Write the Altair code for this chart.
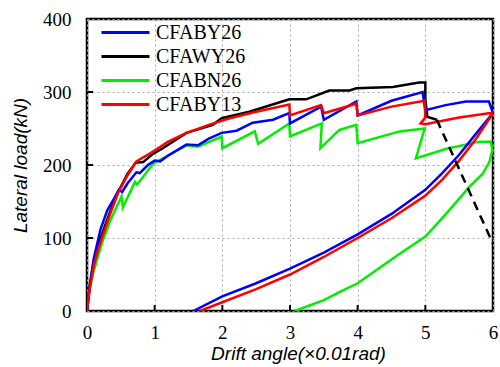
import altair as alt
import pandas as pd

# ---- data (drift angle x0.01 rad, lateral load kN) ----
series_names = ["CFABY26", "CFAWY26", "CFABN26", "CFABY13"]
series_colors = ["#0000ff", "#000000", "#00ee00", "#ff0000"]

blue_x = [0, 0.05, 0.1, 0.2, 0.3, 0.4, 0.47, 0.52, 0.6, 0.73, 0.78, 0.9, 1.0, 1.08, 1.2, 1.47, 1.64, 1.8, 1.99,
          2.21, 2.45, 2.75, 2.99, 3.0, 3.46, 3.5, 3.98, 4.0, 4.5, 4.96, 5.0, 5.3, 5.6, 5.94, 6.0,
          5.75, 5.5, 5.25, 5.0, 4.5, 4.0, 3.5, 3.0, 2.5, 2.0, 1.57]
blue_y = [0, 40, 72, 112, 138, 154, 166, 163, 175, 190, 189, 200, 206, 205, 213, 228, 227, 236, 244,
          247, 258, 262, 271, 257, 280, 262, 287, 268, 288, 300, 275, 282, 287, 287, 271,
          243, 214, 189, 166, 133, 105, 80, 58, 38, 20, 0]

black_x = [0, 0.04, 0.1, 0.17, 0.27, 0.35, 0.46, 0.6, 0.72, 0.83, 0.97, 1.12, 1.47, 1.86, 1.99, 2.4, 2.99,
           3.24, 3.58, 3.88, 3.98, 4.52, 4.91, 5.0, 5.0, 5.03, 5.17]
black_y = [0, 35, 68, 92, 118, 138, 163, 188, 203, 204, 215, 223, 244, 255, 264, 273, 290,
           290, 302, 302, 305, 307, 313, 313, 290, 266, 262]
black_dash_x = [5.17, 6.0]
black_dash_y = [262, 92]

green_x = [0, 0.02, 0.1, 0.22, 0.35, 0.46, 0.51, 0.53, 0.71, 0.74, 0.98, 1.2, 1.47, 1.64, 1.99, 2.0, 2.48,
           2.53, 2.99, 3.0, 3.47, 3.45, 3.73, 3.98, 4.0, 4.62, 4.99, 4.86, 5.3, 5.8, 5.97,
           5.99, 5.95, 5.85, 5.65, 5.4, 5.2, 5.0, 4.6, 4.0, 3.73, 3.5, 3.07]
green_y = [0, 24, 55, 93, 125, 147, 157, 142, 177, 173, 202, 213, 227, 225, 239, 223, 246,
           229, 257, 239, 257, 223, 248, 255, 230, 246, 250, 209, 222, 232, 232,
           220, 205, 188, 170, 143, 122, 102, 77, 38, 26, 15, 0]

red_x = [0, 0.04, 0.1, 0.17, 0.27, 0.35, 0.46, 0.6, 0.73, 0.97, 1.2, 1.47, 1.8, 2.11, 2.45, 2.99, 3.0,
         3.46, 3.5, 3.98, 4.0, 4.5, 4.99, 5.0, 4.93, 5.0, 5.5, 5.94, 6.0,
         5.75, 5.5, 5.25, 5.0, 4.5, 4.0, 3.5, 3.0, 2.5, 2.0, 1.67]
red_y = [0, 30, 62, 86, 113, 135, 162, 186, 205, 218, 232, 244, 255, 264, 272, 283, 268,
         282, 271, 284, 268, 280, 288, 265, 257, 256, 265, 271, 271,
         236, 206, 180, 158, 127, 100, 74, 50, 30, 12, 0]

x_ticks = [0, 1, 2, 3, 4, 5, 6]
y_ticks = [0, 100, 200, 300, 400]

rows = []
for name, xs, ys in [("CFABN26", green_x, green_y), ("CFAWY26", black_x, black_y),
                     ("CFABY26", blue_x, blue_y), ("CFABY13", red_x, red_y)]:
    for i, (xv, yv) in enumerate(zip(xs, ys)):
        rows.append({"series": name, "x": xv, "y": yv, "i": i})
df = pd.DataFrame(rows)
dash_df = pd.DataFrame({"x": black_dash_x, "y": black_dash_y, "i": list(range(len(black_dash_x)))})
xt_df = pd.DataFrame({"v": x_ticks[1:-1]})
yt_df = pd.DataFrame({"v": y_ticks[1:-1]})

W, H = 406, 292
xscale = alt.Scale(domain=[0, 6], nice=False, zero=False)
yscale = alt.Scale(domain=[0, 400], nice=False)

x_axis = alt.Axis(values=x_ticks, format="d", title="Drift angle(×0.01rad)", ticks=False, domain=False,
                  grid=True, gridDash=[2, 3], gridColor="#aaaaaa", gridWidth=1,
                  labelFont="Liberation Serif", labelFontSize=19, labelColor="black", labelPadding=12,
                  titleFont="Liberation Sans", titleFontSize=19, titleFontStyle="italic",
                  titleFontWeight="normal", titleColor="black", titleX=211, titleY=48,
                  titleBaseline="alphabetic", labelFlush=False)
y_axis = alt.Axis(values=y_ticks, format="d", title="Lateral load(kN)", ticks=False, domain=False,
                  grid=True, gridDash=[2, 3], gridColor="#aaaaaa", gridWidth=1,
                  labelFont="Liberation Serif", labelFontSize=19, labelColor="black", labelPadding=16,
                  titleFont="Liberation Sans", titleFontSize=19, titleFontStyle="italic",
                  titleFontWeight="normal", titleColor="black", titleX=-67, titleY=146,
                  titleAngle=270, titleAlign="center", titleBaseline="middle", labelFlush=False)

lines = alt.Chart(df).mark_line(strokeWidth=2.5, clip=True).encode(
    x=alt.X("x:Q", scale=xscale, axis=x_axis),
    y=alt.Y("y:Q", scale=yscale, axis=y_axis),
    color=alt.Color("series:N", scale=alt.Scale(domain=series_names, range=series_colors),
                    legend=alt.Legend(title=None, orient="none", legendX=13, legendY=4,
                                      symbolType="stroke", symbolSize=2304, symbolStrokeWidth=3,
                                      clipHeight=19,
                                      labelFont="Liberation Serif", labelFontSize=20,
                                      labelColor="black", rowPadding=3, labelOffset=5,
                                      padding=0)),
    order="i:Q",
)

dashed = alt.Chart(dash_df).mark_line(strokeWidth=2.5, color="black", strokeDash=[9, 6]).encode(
    x=alt.X("x:Q", scale=xscale), y=alt.Y("y:Q", scale=yscale), order="i:Q")

xticks = alt.Chart(xt_df).mark_rule(color="black", strokeWidth=2).encode(
    x=alt.X("v:Q", scale=xscale), y=alt.value(H), y2=alt.value(H - 6))
yticks = alt.Chart(yt_df).mark_rule(color="black", strokeWidth=2).encode(
    y=alt.Y("v:Q", scale=yscale), x=alt.value(0), x2=alt.value(6))

chart = alt.layer(lines, dashed, xticks, yticks).properties(
    width=W, height=H,
    autosize=alt.AutoSizeParams(type="none"),
    padding={"left": 87, "top": 19, "right": 7, "bottom": 56},
    background="white",
).configure_view(stroke="black", strokeWidth=2.5)

chart.save("out.html", embed_options={"renderer": "svg", "actions": False})
